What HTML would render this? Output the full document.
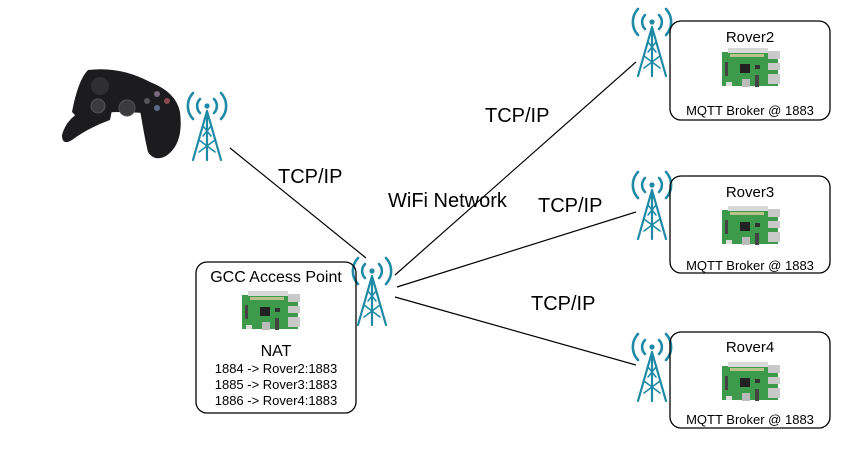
<!DOCTYPE html>
<html><head><meta charset="utf-8"><style>
html,body{margin:0;padding:0;background:#fff;}
svg{display:block;font-family:"Liberation Sans",sans-serif;}
</style></head><body>
<svg width="852" height="452" viewBox="0 0 852 452" xmlns="http://www.w3.org/2000/svg">
<defs>
<g id="tw" fill="none" stroke="#1f8aa6" stroke-width="2.6" stroke-linecap="round">
  <circle cx="0" cy="0" r="2.6" fill="#1f8aa6" stroke="none"/>
  <path d="M-7,-7 A10,10 0 0 0 -7,7 M7,-7 A10,10 0 0 1 7,7"/>
  <path d="M-14,-13 A19,19 0 0 0 -14,13 M14,-13 A19,19 0 0 1 14,13"/>
  <path d="M0,5 L-14,54 M0,5 L14,54 M0,5 L0,54" stroke-width="2.2"/>
  <path d="M-4,20 L4,30 M4,20 L-4,30 M-8,34 L8,46 M8,34 L-8,46" stroke-width="1.6"/>
</g>
<g id="pi">
  <rect x="0" y="4" width="56" height="34" fill="#3c9a4a"/>
  <rect x="6" y="0" width="40" height="5" fill="#d8d8d8"/>
  <rect x="8" y="6" width="34" height="3" fill="#b8c28a"/>
  <rect x="46" y="3" width="12" height="8" fill="#c9c9c9"/>
  <rect x="46" y="15" width="12" height="7" fill="#c9c9c9"/>
  <rect x="46" y="26" width="12" height="10" fill="#c9c9c9"/>
  <rect x="18" y="16" width="10" height="9" fill="#222"/>
  <rect x="33" y="17" width="5" height="4" fill="#333"/>
  <rect x="3" y="14" width="3" height="14" fill="#444"/>
  <rect x="20" y="31" width="8" height="8" fill="#bbb"/>
  <rect x="33" y="27" width="4" height="12" fill="#444"/>
  <rect x="4" y="34" width="6" height="4" fill="#ddd"/>
</g>
</defs>

<g stroke="#000" stroke-width="1.2">
  <line x1="230" y1="148" x2="366" y2="258"/>
  <line x1="395" y1="275" x2="636" y2="62"/>
  <line x1="397" y1="287" x2="636" y2="212"/>
  <line x1="395" y1="297" x2="636" y2="365"/>
</g>

<!-- controller -->
<g fill="#1c1c1f">
  <path d="M88,70 Q120,66 150,82 Q176,92 180,112 L176,118 Q150,112 120,112 Q95,112 80,120 L72,112 Q78,80 88,70Z"/>
  <path d="M80,112 Q66,120 62,135 Q62,146 72,140 Q88,128 110,120 L112,110Z"/>
  <path d="M140,110 Q145,140 148,152 Q154,162 166,156 Q184,144 180,112Z"/>
  <circle cx="100" cy="86" r="9" fill="#2e2e33"/>
  <circle cx="127" cy="108" r="8" fill="#3a3a3f" stroke="#555"/>
  <circle cx="98" cy="106" r="7" fill="#3a3a3f" stroke="#555"/>
  <circle cx="157" cy="94" r="3" fill="#7a6a80"/>
  <circle cx="167" cy="101" r="3" fill="#8a4a55"/>
  <circle cx="157" cy="108" r="3" fill="#5a6a8a"/>
  <circle cx="147" cy="101" r="3" fill="#555"/>
</g>

<use href="#tw" x="207" y="106"/>
<use href="#tw" x="372" y="271"/>
<use href="#tw" x="652" y="22"/>
<use href="#tw" x="652" y="185"/>
<use href="#tw" x="652" y="347"/>

<g fill="none" stroke="#000" stroke-width="1.3">
  <rect x="196" y="262" width="160" height="151" rx="11"/>
  <rect x="670" y="21" width="160" height="99" rx="11"/>
  <rect x="670" y="176" width="160" height="97" rx="11"/>
  <rect x="670" y="332" width="160" height="96" rx="11"/>
</g>

<use href="#pi" x="242" y="291"/>
<use href="#pi" x="722" y="48"/>
<use href="#pi" x="722" y="206"/>
<use href="#pi" x="722" y="362"/>

<g fill="#000" text-anchor="middle">
  <text x="276" y="282" font-size="16">GCC Access Point</text>
  <text x="276" y="356" font-size="16">NAT</text>
  <text x="276" y="373" font-size="13">1884 -&gt; Rover2:1883</text>
  <text x="276" y="389" font-size="13">1885 -&gt; Rover3:1883</text>
  <text x="276" y="405" font-size="13">1886 -&gt; Rover4:1883</text>
  <text x="750" y="42" font-size="15">Rover2</text>
  <text x="750" y="115" font-size="13">MQTT Broker @ 1883</text>
  <text x="750" y="197" font-size="15">Rover3</text>
  <text x="750" y="270" font-size="13">MQTT Broker @ 1883</text>
  <text x="750" y="352" font-size="15">Rover4</text>
  <text x="750" y="424" font-size="13">MQTT Broker @ 1883</text>
</g>
<g fill="#000" font-size="20">
  <text x="278" y="183">TCP/IP</text>
  <text x="485" y="122">TCP/IP</text>
  <text x="388" y="207">WiFi Network</text>
  <text x="538" y="212">TCP/IP</text>
  <text x="531" y="310">TCP/IP</text>
</g>
</svg>
</body></html>
